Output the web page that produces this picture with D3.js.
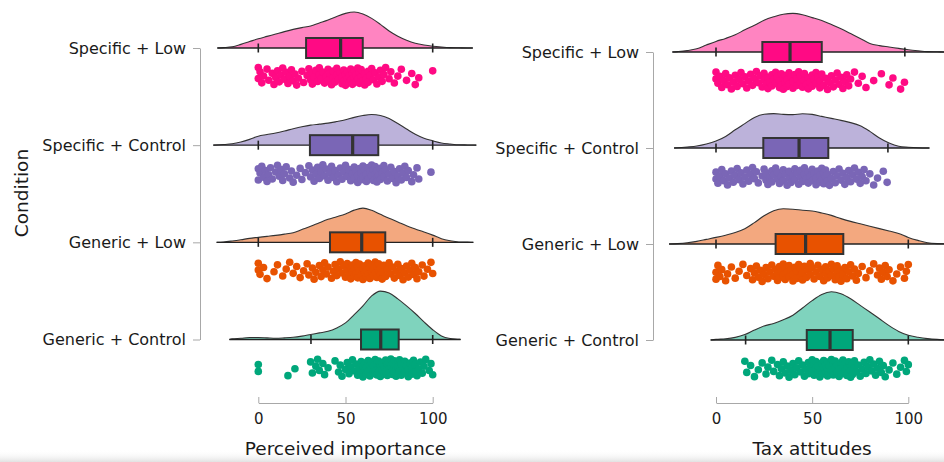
<!DOCTYPE html>
<html>
<head>
<meta charset="utf-8">
<script src="https://cdn.jsdelivr.net/npm/d3@7"></script>
<style>
  html, body { margin: 0; padding: 0; background: #fff; }
  svg { display: block; font-family: "DejaVu Sans", sans-serif; }
</style>
</head>
<body>
<svg id="chart" width="944" height="462"></svg>
<script>
// ---- data ---------------------------------------------------------------
const categories = ["Specific + Low", "Specific + Control", "Generic + Low", "Generic + Control"];
const xTicks = [0, 50, 100];
const colors = ["#FF0A84", "#7A66B6", "#E85200", "#00A77B"];

// density evaluation grid (score units) and densities in per-mille
const densityGrid = [-20,-15,-10,-5,0,5,10,15,20,25,30,35,40,45,50,55,60,65,70,75,80,85,90,95,100,105,110,115,120];

// Perceived importance
const impDensitySpecLow  = [0.2,0.6,1.8,3.2,4.6,5.8,7.0,8.2,9.3,10.2,11.0,12.5,14.0,15.8,17.3,18.0,17.0,14.8,11.8,8.5,5.9,3.9,2.4,1.5,0.9,0.5,0.2,0.1,0];
const impDensitySpecCtrl = [0.3,0.7,1.6,2.9,4.5,5.3,6.1,7.1,8.2,9.2,10.0,10.5,11.0,11.8,12.7,13.9,14.8,15.3,14.8,13.3,10.8,8.1,5.5,3.5,2.2,1.1,0.6,0.2,0.1];
const impDensityGenLow   = [0.2,0.7,1.3,2.0,2.5,3.0,3.5,4.1,4.8,6.4,8.0,9.8,11.5,12.8,14.2,16.1,17.1,16.0,14.0,12.0,10.2,8.3,6.7,5.2,3.6,1.8,0.8,0.2,0.1];
const impDensityGenCtrl  = [0,0.3,0.6,1.0,1.0,0.8,0.6,0.8,1.1,1.7,2.5,3.3,4.1,5.8,8.3,12.4,16.8,21.8,24.2,23.3,20.3,16.8,13.0,8.8,4.9,1.8,0.5,0.1,0];
const impDensityExtent = [[-23.5, 123], [-25.8, 125], [-23.9, 123.3], [-16.6, 116]];
// whisker low, Q1, median, Q3, whisker high
const impBox = [[0, 27.4, 47.2, 59.9, 100], [0, 29.6, 54.1, 68.8, 100], [0, 41.1, 59.3, 72.8, 100], [30.2, 58.9, 70.2, 80.5, 100]];

const impSpecLow = [0,0,1,2,3,5,6,8,9,10,11,12,13,14,15,16,17,18,19,20,21,22,23,25,26,
  28,29,30,31,31,32,33,34,35,35,36,37,38,39,40,40,41,42,43,43,44,45,45,46,47,
  48,48,49,49,50,50,51,51,52,52,53,53,54,54,55,55,56,56,57,57,58,58,59,59,60,
  61,61,62,63,63,64,65,66,67,68,69,70,71,72,73,75,76,78,80,82,85,88,90,92,100];
const impSpecCtrl = [0,0,1,2,3,4,5,6,7,8,10,11,12,13,14,15,16,18,19,20,22,24,25,27,29,
  30,31,32,33,34,35,36,37,38,39,40,41,42,43,44,45,46,47,48,49,50,51,52,53,54,
  55,55,56,57,57,58,59,59,60,60,61,62,62,63,63,64,65,65,66,66,67,67,68,68,68,
  69,70,70,71,72,72,73,74,75,76,77,78,79,80,81,82,83,84,85,86,88,89,91,92,99];
const impGenLow = [0,0,1,3,5,9,11,14,16,18,20,22,24,26,28,29,31,32,33,35,36,37,38,39,40,
  42,43,44,45,46,47,48,49,50,51,51,52,53,53,54,54,55,55,56,56,57,57,58,58,59,
  60,60,61,61,62,62,63,63,64,64,65,65,66,66,67,67,68,68,69,69,70,70,71,71,72,
  73,74,75,76,77,78,79,80,81,82,83,84,85,86,87,88,89,90,91,92,94,95,97,99,100];
const impGenCtrl = [0,0,17,21,30,31,33,34,35,37,38,40,44,46,47,48,50,51,52,53,54,55,56,57,58,
  59,59,60,60,61,61,62,62,63,63,64,64,65,65,66,66,67,67,68,68,69,69,69,70,70,
  71,71,72,72,73,73,74,74,75,75,75,76,76,77,77,77,78,78,78,79,79,79,80,80,80,
  81,81,82,82,83,84,84,85,86,86,87,88,88,89,90,90,91,92,93,94,95,96,98,99,100];

// Tax attitudes
const taxDensitySpecLow  = [0.2,0.7,1.6,3.5,5.3,6.8,8.6,11.1,13.4,15.9,17.6,18.9,19.3,18.6,17.2,15.7,13.7,11.6,9.2,6.8,4.3,3.2,2.5,1.8,1.1,0.6,0.2,0.1,0];
const taxDensitySpecCtrl = [0.1,0.5,1.0,2.0,3.5,5.8,9.1,12.2,15.3,16.9,17.2,16.8,16.7,17.1,16.8,15.8,14.8,13.8,12.7,11.1,8.3,5.0,2.5,0.9,0.4,0.1,0,0,0];
const taxDensityGenLow   = [0.2,0.6,1.3,2.3,3.3,4.4,5.7,7.6,10.7,14.1,16.6,17.6,17.4,16.9,16.5,15.5,14.3,12.7,11.3,10.1,8.9,7.7,6.5,5.3,3.3,1.8,0.6,0.2,0.1];
const taxDensityGenCtrl  = [0,0,0,0,0.3,0.6,1.3,2.7,5.0,7.0,8.3,10.1,12.4,16.0,19.7,22.8,24.1,23.1,20.6,17.3,14.0,10.6,7.2,4.3,2.4,1.4,0.7,0.3,0.1];
const taxDensityExtent = [[-22.7, 122], [-21.8, 111], [-24.4, 124], [-2.8, 125]];
const taxBox = [[0, 24.1, 38.5, 55, 98.2], [0, 24.6, 43.2, 58.4, 89.4], [0, 31, 46.6, 66.2, 100], [15.4, 47.2, 59.3, 71.1, 100]];

const taxSpecLow = [0,0,1,2,3,4,5,6,7,8,9,10,11,12,13,14,15,16,17,18,19,20,21,22,23,
  24,25,25,26,27,27,28,29,29,30,31,31,32,33,33,34,34,35,35,36,36,37,37,38,38,
  39,40,40,41,42,42,43,44,44,45,46,46,47,48,48,49,50,50,51,52,52,53,54,54,55,
  56,57,58,59,60,61,62,63,64,65,66,67,68,69,70,72,74,76,78,82,86,90,92,96,98];
const taxSpecCtrl = [0,0,1,2,3,4,5,6,7,8,9,10,11,12,13,14,15,16,17,18,19,20,21,22,24,
  25,26,26,27,28,29,29,30,31,32,32,33,34,35,35,36,37,38,38,39,40,41,41,42,43,
  44,44,45,46,46,47,48,48,49,50,50,51,52,52,53,54,54,55,55,56,56,57,57,58,58,
  59,60,61,62,63,64,65,66,67,68,69,70,71,72,73,74,75,76,77,78,80,82,84,87,89];
const taxGenLow = [0,0,1,2,3,5,6,8,10,12,14,16,18,19,20,21,22,23,24,25,26,27,28,29,30,
  31,32,32,33,33,34,35,35,36,36,37,38,38,39,40,40,41,42,42,43,44,44,45,45,46,
  47,48,49,49,50,51,52,53,54,55,56,57,57,58,59,60,60,61,62,63,63,64,65,65,66,
  67,68,69,70,71,72,73,74,76,78,80,82,84,85,86,87,88,89,90,92,94,96,98,99,100];
const taxGenCtrl = [15,16,18,20,22,24,26,27,29,30,32,33,34,35,36,37,38,39,40,41,42,43,44,45,46,
  47,48,48,49,50,50,51,51,52,52,53,53,54,54,55,55,56,56,57,57,58,58,58,59,59,
  60,60,61,61,62,62,63,63,64,64,65,65,66,66,67,67,68,68,69,69,70,70,70,71,71,
  72,72,73,74,75,76,77,78,79,80,81,82,83,84,85,86,87,88,90,92,94,96,98,99,100];

// ---- drawing ------------------------------------------------------------
const svg = d3.select("#chart");
const axisGray = "#a8a8a8";
const outline = "#333333";

// faint shading along the bottom edge, kept behind everything else
const defs = svg.append("defs");
const grad = defs.append("linearGradient").attr("id", "bottomShade")
  .attr("x1", 0).attr("x2", 0).attr("y1", 0).attr("y2", 1);
grad.append("stop").attr("offset", "0%").attr("stop-color", "#ffffff").attr("stop-opacity", 0);
grad.append("stop").attr("offset", "100%").attr("stop-color", "#e2e2e2").attr("stop-opacity", 1);
svg.append("rect")
  .attr("x", 0).attr("y", 450).attr("width", 944).attr("height", 12)
  .attr("fill", "url(#bottomShade)");

const densityScale = d3.scaleLinear().domain([0, 25]).range([0, 50]);

const panels = [
  {
    title: "Perceived importance",
    x: d3.scaleLinear().domain([0, 100]).range([258.3, 432.7]),
    y: d3.scalePoint().domain(categories).range([48, 339.5]),
    yAxisX: 200,
    densities: [impDensitySpecLow, impDensitySpecCtrl, impDensityGenLow, impDensityGenCtrl],
    extents: impDensityExtent,
    boxes: impBox,
    points: [impSpecLow, impSpecCtrl, impGenLow, impGenCtrl],
    showCondition: true
  },
  {
    title: "Tax attitudes",
    x: d3.scaleLinear().domain([0, 100]).range([716, 908.3]),
    y: d3.scalePoint().domain(categories).range([52, 340]),
    yAxisX: 653,
    densities: [taxDensitySpecLow, taxDensitySpecCtrl, taxDensityGenLow, taxDensityGenCtrl],
    extents: taxDensityExtent,
    boxes: taxBox,
    points: [taxSpecLow, taxSpecCtrl, taxGenLow, taxGenCtrl],
    showCondition: false
  }
];

const xAxisY = 403;

panels.forEach((p, pi) => {
  const g = svg.append("g");

  // y axis
  const yAxis = g.append("g")
    .attr("transform", `translate(${p.yAxisX},0)`)
    .call(d3.axisLeft(p.y).tickSize(7).tickSizeOuter(0).tickPadding(7));
  yAxis.selectAll("path, line").attr("stroke", axisGray);
  yAxis.selectAll("text").attr("font-size", 16).attr("fill", "#1a1a1a")
    .attr("font-family", "DejaVu Sans, sans-serif");

  // x axis (ticks point up towards the data)
  const xAxis = g.append("g")
    .attr("transform", `translate(0,${xAxisY})`)
    .call(d3.axisBottom(p.x).tickValues(xTicks).tickSize(-6).tickSizeOuter(0).tickPadding(10.5));
  xAxis.selectAll("path, line").attr("stroke", axisGray);
  xAxis.selectAll("text").attr("font-size", 15).attr("fill", "#1a1a1a")
    .attr("font-family", "DejaVu Sans, sans-serif");

  g.append("text")
    .attr("x", (p.x(0) + p.x(100)) / 2).attr("y", 455)
    .attr("text-anchor", "middle").attr("font-size", 18.5).attr("fill", "#1a1a1a")
    .text(p.title);

  categories.forEach((cat, ci) => {
    const base = p.y(cat);
    const col = colors[ci];
    const [lo, hi] = p.extents[ci];
    const dens = p.densities[ci];

    const pts = [[lo, 0]];
    densityGrid.forEach((gx, k) => { if (gx > lo && gx < hi) pts.push([gx, dens[k]]); });
    pts.push([hi, 0]);

    const area = d3.area()
      .x(d => p.x(d[0])).y0(base).y1(d => base - densityScale(d[1]))
      .curve(d3.curveMonotoneX);
    const line = d3.line()
      .x(d => p.x(d[0])).y(d => base - densityScale(d[1]))
      .curve(d3.curveMonotoneX);

    g.append("path").attr("d", area(pts))
      .attr("fill", col).attr("fill-opacity", 0.5);
    g.append("path").attr("d", line(pts))
      .attr("fill", "none").attr("stroke", outline).attr("stroke-width", 1.1);
    // baseline across density range
    g.append("line")
      .attr("x1", p.x(lo)).attr("x2", p.x(hi))
      .attr("y1", base).attr("y2", base)
      .attr("stroke", "#222").attr("stroke-width", 1.3);

    // box plot
    const [wLo, q1, med, q3, wHi] = p.boxes[ci];
    [wLo, wHi].forEach(v => {
      g.append("line")
        .attr("x1", p.x(v)).attr("x2", p.x(v))
        .attr("y1", base - 4.5).attr("y2", base + 4.5)
        .attr("stroke", "#222").attr("stroke-width", 1.6);
    });
    g.append("rect")
      .attr("x", p.x(q1)).attr("y", base - 10)
      .attr("width", p.x(q3) - p.x(q1)).attr("height", 20)
      .attr("fill", col).attr("stroke", outline).attr("stroke-width", 2);
    g.append("line")
      .attr("x1", p.x(med)).attr("x2", p.x(med))
      .attr("y1", base - 10).attr("y2", base + 10)
      .attr("stroke", outline).attr("stroke-width", 3.2);

    // jittered raw points
    const cy = base + 28.5;
    g.append("g").selectAll("circle")
      .data(p.points[ci])
      .join("circle")
      .attr("cx", d => p.x(d))
      .attr("cy", (d, i) => {
        const f = (i * 0.6180339887 + ci * 0.23 + pi * 0.41) % 1;
        return cy + (f * 2 - 1) * 9;
      })
      .attr("r", 3.8)
      .attr("fill", col);
  });

  if (p.showCondition) {
    g.append("text")
      .attr("transform", "translate(28,193) rotate(-90)")
      .attr("text-anchor", "middle").attr("font-size", 18.5).attr("fill", "#1a1a1a")
      .text("Condition");
  }
});
</script>
</body>
</html>
